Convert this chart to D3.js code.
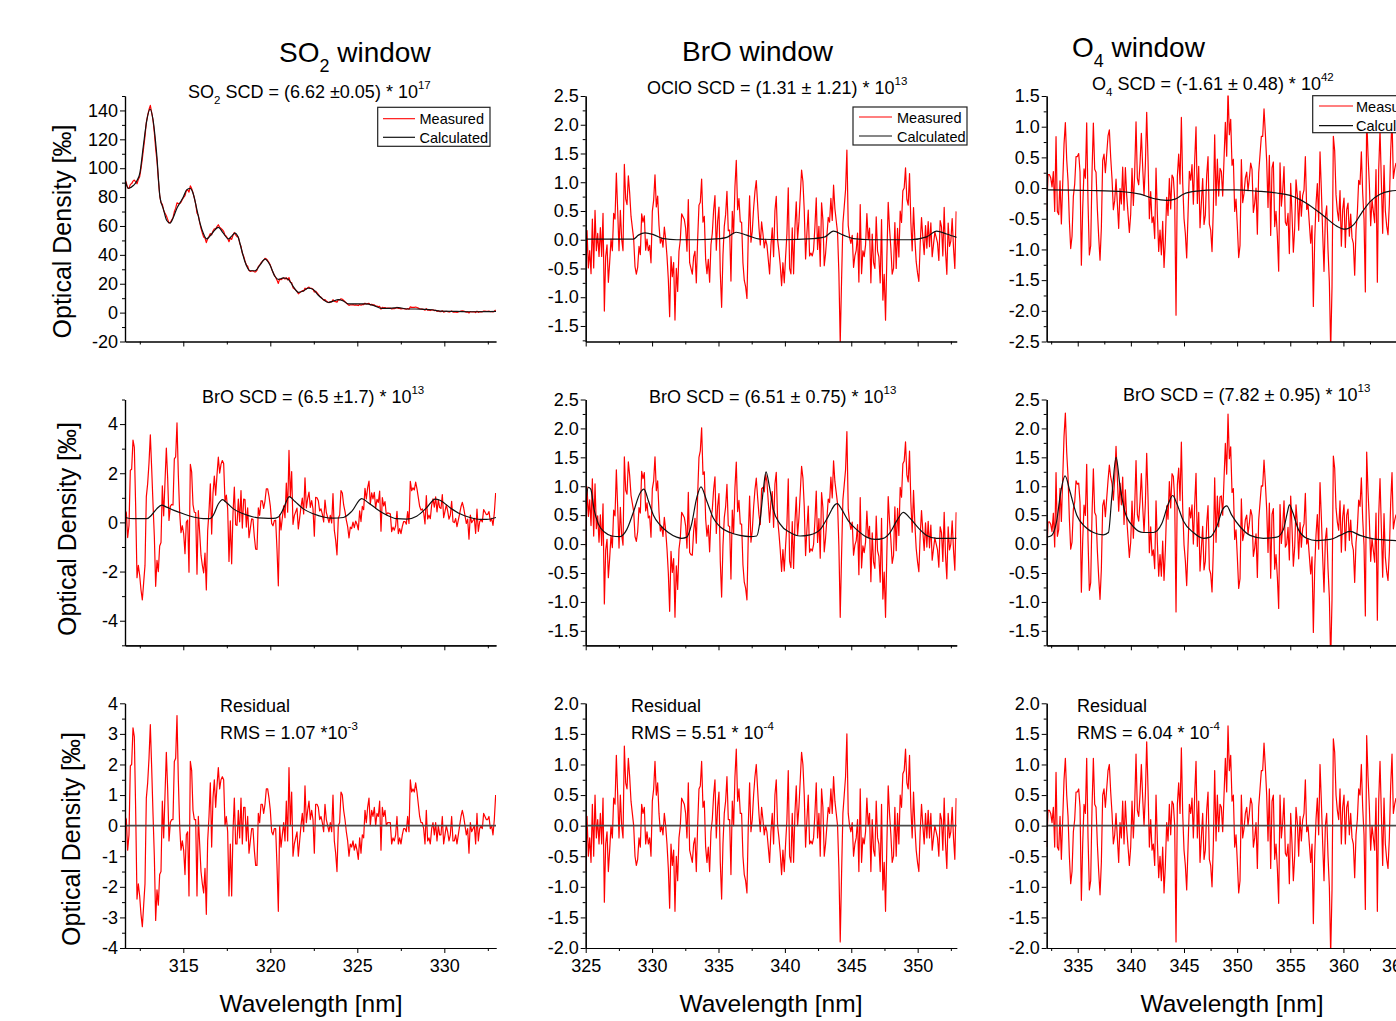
<!DOCTYPE html>
<html>
<head>
<meta charset="utf-8">
<script src="https://cdn.jsdelivr.net/npm/d3@7"></script>
<style>
  html, body { margin: 0; padding: 0; background: #fff; overflow: hidden; }
  svg { display: block; font-family: "Liberation Sans", Arial, sans-serif; }
</style>
</head>
<body>
<svg id="fig" width="1396" height="1021"></svg>
<script>
// ---------------------------------------------------------------------------
// Detector wavelength grids of the three fit windows: first and last pixel (nm)
const so2Grid = [311.65, 332.95];
const broGrid = [325.0, 352.9];
const o4Grid  = [332.08, 364.95];

// Fit residuals (optical density, per mille), one value per detector pixel
const residualSO2 = [
  0.3, 0.2, -0.8, -0.3, 1.95, 2.0, 3.2, 2.9, 0.5, -2.4,
  -1.9, -2.3, -2.9, -3.3, -2.6, -1.9, 0.9, 1.4, 2.2, 3.3,
  1.9, 0.4, -1.0, -3.1, -2.1, -2.6, -1.6, -1.5, 0.8, -0.4,
  1.0, 2.4, 1.2, -0.5, 0.1, 0.2, 0.2, 2.1, 2.2, 3.6,
  1.5, 0.0, -0.8, -0.5, -0.8, -1.6, -0.3, -0.2, -2.3, 2.1,
  1.8, 0.5, 0.2, 0.2, -2.3, 0.3, -0.6, -1.5, -1.9, -2.2,
  -1.4, -2.9, -0.5, 0.3, 1.4, -0.7, 0.9, 1.5, 0.6, 1.3,
  1.9, 1.2, 1.5, 1.6, 1.5, 0.0, 0.3, -0.2, -2.3, -0.6,
  -2.3, -0.2, 0.9, -0.6, -0.6, 0.5, -0.4, 0.9, -0.6, 0.6,
  0.6, -0.5, 0.3, -0.9, -0.5, -0.1, -0.1, -0.8, -1.3, -1.3,
  0.4, 0.1, 0.7, 0.7, 0.4, 0.7, 1.2, 1.2, 0.9, 0.5,
  -0.2, -0.3, -0.1, -0.1, -1.3, -2.8, 0.0, -0.7, -0.3, 0.1,
  -0.5, 0.8, -0.5, 1.9, 0.0, 1.1, -1.0, -0.6, -0.4, -0.2,
  -1.0, -0.5, 0.0, 0.4, -0.2, 1.3,
  0.1, 0.5, 0.8, 0.2, 0.5, 0.2, -0.9, 0.7, 0.7, 0.6,
  0.2, 0.3, 0.1, -0.2, 0.7, 0.2, 0.0, -0.2, 0.1, -0.2,
  1.0, -0.5, -0.9, -1.5, 0.0, 0.1, 1.1, 1.0, 0.5, 0.2,
  -0.2, -0.5, -1.0, -0.6, -0.7, -0.5, -0.8, -0.6, -0.8, -1.1,
  -0.4, -0.9, -0.3, -0.4, 0.5, 0.1, 0.6, 0.9, 0.0, 0.5,
  0.3, 0.6, 0.0, 0.4, 0.3, 0.8, -0.8, 0.6, 0.3, 0.5,
  0.0, 0.1, 0.1, 0.1, -0.6, -0.4, -0.5, -0.3, 0.3, -0.6,
  -0.4, -0.6, -0.3, -0.1, -0.1, -0.2, 0.3, -0.2, 1.5, 1.1,
  1.2, 1.1, 1.4, 1.1, 0.7, 0.3, 0.1, 0.1, -0.1, -0.6,
  0.5, -0.5, -0.4, -0.6, -0.1, 0.1, -0.3, 0.1, -0.5, 0.0,
  -0.3, -0.3, 0.3, -0.6, -0.3, 0.0, -0.2, -0.5, -0.3, 0.3,
  -0.5, -0.5, -0.3, -0.6, -0.3, 0.0, 0.3, 0.5, 0.3, 0.0,
  -0.3, -0.1, -0.9, 0.1, -0.2, -0.1, 0.0, -0.6, 0.4, -0.5,
  -0.1, 0.0, -0.1, 0.4, 0.3, 0.2, 0.2, 0.3, -0.1, 0.0,
  -0.3, 0.2, 1.0
];

const residualBrO = [
  -0.75, 0.15, -0.5, -0.2, -0.6, 0.35, -0.5, 0.5, -0.2, 0.1,
  -0.3, 0.2, -0.3, 0.45, -1.25, -0.3, -0.1, -0.75, -0.4, 0.0,
  -0.2, 0.45, 0.35, 1.15, 0.5, -0.2, 0.5, 0.0, -0.2, 1.3,
  0.7, 0.6, 1.1, 0.8, 0.4, 0.2, 0.0, -0.5, -0.65, -0.55,
  -0.2, -0.35, 0.35, 0.2, 0.3, -0.3, -0.1, -0.3, -0.2, -0.5,
  0.4, 0.6, 1.05, 0.5, 0.7, 0.2, -0.1, 0.0, -0.15, 0.2,
  0.0, -0.3, -0.7, -1.35, -0.3, -0.65, -0.4, -1.4, -0.5, -0.9,
  -0.2, 0.0, 0.45, 0.4, 0.35, 0.2, -0.2, 0.7, -0.4, -0.5,
  -0.6, -0.3, -0.2, -0.75, 0.0, 0.6, 0.65, 1.05, 0.3, 0.4,
  -0.35, -0.6, -0.35, -0.75, -0.1, 0.1, 0.5, 0.75, -0.2, 0.3,
  0.55, -0.6, -1.2, -0.3, 0.2, 0.4, 0.8, 0.1, 0.1, -0.8,
  0.4, 0.0, 0.8, 1.25, 0.4, 0.6, 0.2, 0.2, -0.5, -0.8,
  -0.9, -1.1, 0.0, 0.7, -0.1, 0.1, 0.5, 0.8, 1.0, 0.6,
  0.2, -0.1, 0.3, 0.1, -0.15, 0.0, -0.1, -0.35, -0.6, -0.1,
  0.2, -0.3, 0.5, 0.75, 0.0, -0.2, -0.45, -0.8, -0.4, -0.75,
  -0.3, 0.1, 0.9, -0.5, -0.6, 0.2, -0.6, 0.2, 0.65, 0.0,
  0.3, 0.75, 1.2, 1.0, 0.5, -0.35, 0.1, 0.5, -0.3, -0.25,
  -0.3, -0.2, 0.2, 0.7, -0.2, 0.2, -0.5, 0.6, 0.3, -0.5,
  -0.3, 0.0, 0.3, 0.2, 0.6, 0.2, 0.8, 0.4, 0.2, 0.0,
  -0.7, -1.9, -0.8, 0.2, 0.5, 0.8, 1.5, 0.2, 0.0, -0.1,
  0.05, -0.5, -0.3, -0.2, 0.1, -0.75, 0.6, -0.6, -0.2, -0.3,
  -0.1, 0.45, 0.0, 0.2, -0.75, 0.1, -0.4, -0.5, 0.4, -0.2,
  -0.3, -0.75, 0.35, -1.05, -0.6, -1.4, -0.3, 0.65, 0.2, -0.15,
  -0.6, -0.5, 0.3, -0.5, 0.2, -0.3, 0.5, 0.3, 0.85, 0.9,
  1.25, 0.7, 0.6, 1.15, 0.3, -0.2, 0.55, 0.0, -0.4, -0.6,
  -0.75, -0.1, 0.35, 0.0, -0.3, 0.2, -0.2, 0.25, -0.2, 0.2,
  -0.4, -0.2, 0.0, -0.1, -0.2, -0.5, 0.2, 0.1, -0.4, 0.45,
  -0.3, -0.7, 0.2, -0.2, -0.1, 0.3, -0.2, -0.55, 0.45
];

const residualO4 = [
  -0.35, 0.25, 0.25, 0.2, 0.05, 0.3, -0.35, 0.87, -0.35, -0.4,
  0.15, -0.55, 0.1, 0.75, 1.1, 0.5, 0.15, -0.5, -0.95, -0.75,
  -0.1, 0.1, 0.55, 0.55, 0.6, 0.3, -1.22, -0.3, 0.35, 0.2,
  1.1, -0.2, -1.05, -0.9, 0.3, 1.1, 0.35, 0.3, -0.3, -0.75,
  -1.13, -0.6, 0.5, 0.6, 0.3, 0.6, 0.9, 1.0, 0.55, 0.2,
  -0.3, -0.15, 0.2, -0.2, -0.6, 0.05, -0.2, 0.4, -0.3, 0.4,
  -0.05, -0.35, -0.65, -0.35, 0.4, -0.2, 0.35, 1.17, 0.25, 0.15,
  0.5, 1.0, 0.45, 0.0, 0.5, 1.37, 0.6, -0.35, 0.1, -0.4,
  -0.3, -0.65, 0.5, -0.25, -0.85, -0.5, -0.9, -0.35, -1.1, -0.65,
  0.05, -0.25, 0.35, -0.15, 0.4, 0.35, 0.0, -1.9, 0.35, 0.7,
  0.2, 1.27, 0.2, -0.4, -0.65, -1.05, -0.35, 0.35, 0.2, 0.45,
  -0.2, 0.5, 1.05, -0.2, 0.4, -0.6, -0.2, 0.2, -0.55, -0.4,
  0.25, 0.55, -0.55, -0.65, -1.0, -0.3, 0.9, -0.25, 0.5, -0.1, 0.35,
  0.3, -0.1, 0.5, 1.1, 0.55, 1.63, 0.9, 1.15, 0.4, 0.5,
  -0.35, -0.15, -0.6, -1.1, -0.9, 0.5, -0.2, -0.05, 0.2, 0.3,
  0.0, 0.2, 0.45, 0.35, -0.35, -0.2, 0.05, -0.7, 0.3, 0.6,
  0.9, 0.9, 1.35, 0.95, 0.5, -0.25, 0.6, -0.7, 0.4, 0.5,
  -0.55, -0.3, -0.7, -1.27, 0.5, -0.2, 0.05, 0.45, -0.45, -0.5,
  -0.3, -0.95, 0.2, -0.3, -0.9, -0.5, 0.3, 0.05, -0.5, 0.15,
  -0.25, 0.1, 0.2, 0.75, -0.1, 0.0, -0.3, -0.6, -0.3, -1.6,
  -0.5, 0.1, 0.45, -0.15, 1.0, 0.4, -0.3, -0.9, 0.0, 0.2,
  -0.5, -1.0, -2.1, -1.05, 1.42, 1.2, 0.5, 0.25, 0.1, 0.6,
  -0.3, 0.3, 0.5, -0.3, 0.3, 0.4, -0.15, 0.2, -0.2, -0.3,
  -0.85, -0.15, 0.1, 0.6, 0.5, 1.0, 0.3, -0.15, -1.37, 1.47,
  0.8, 0.3, -0.4, 0.0, -0.2, -0.4, 0.45, -1.4, 0.4, 1.05,
  0.2, -0.65, 0.45, -0.3, -0.55, -0.7, -0.2, 0.65, 1.17, 0.2,
  0.35, 0.45
];

// Fitted (calculated) optical densities, per mille, at the listed wavelengths
const so2FitWl = [311.65, 311.84, 312.13, 312.32, 312.51, 312.70, 312.90, 313.09, 313.28, 313.47,
  313.66, 313.85, 314.04, 314.24, 314.43, 314.62, 314.81, 315.00, 315.19, 315.39,
  315.58, 315.77, 315.96, 316.15, 316.34, 316.53, 316.73, 317.01, 317.30, 317.59,
  317.78, 317.97, 318.16, 318.36, 318.55, 318.83, 319.12, 319.41, 319.70, 319.98,
  320.27, 320.46, 320.75, 321.04, 321.32, 321.61, 321.90, 322.19, 322.47, 322.76,
  323.05, 323.34, 323.62, 323.91, 324.20, 324.49, 324.96, 325.44, 325.92, 326.40,
  326.88, 327.36, 327.84, 328.32, 328.80, 329.27, 329.75, 330.71, 331.67, 332.97];
const so2Fit = [92, 86, 88, 91, 97, 115, 133, 141, 132, 110,
  80, 72, 64, 62, 66, 72, 76, 80, 85, 86,
  82, 72, 62, 55, 51, 53, 56, 59, 55, 51,
  53, 55, 52, 43, 35, 29, 29, 33, 37, 33,
  25, 23, 24, 23, 18, 14, 15, 17, 16, 12,
  9, 7, 8, 9, 8, 6, 6, 6, 5, 3,
  3, 3.5, 2.5, 2.5, 2.3, 2.0, 1.0, 0.8, 0.6, 0.8];

const broFitSO2WinWl = [311.65, 312.13, 312.90, 313.18, 313.47, 313.76, 314.04, 314.43, 315.00, 315.58,
  316.15, 316.53, 316.73, 317.01, 317.26, 317.49, 317.88, 318.45, 319.03, 319.60,
  320.17, 320.46, 320.75, 321.09, 321.42, 321.90, 322.47, 323.05, 323.62, 324.20,
  324.68, 325.25, 325.63, 326.11, 326.69, 327.26, 327.84, 328.41, 328.99, 329.47,
  329.75, 330.33, 330.90, 331.48, 332.05, 332.44, 332.97];
const broFitSO2Win = [0.2, 0.15, 0.15, 0.3, 0.55, 0.7, 0.62, 0.5, 0.35, 0.22,
  0.15, 0.15, 0.3, 0.75, 0.93, 0.8, 0.55, 0.35, 0.22, 0.17,
  0.16, 0.22, 0.55, 1.05, 0.85, 0.55, 0.35, 0.22, 0.17, 0.2,
  0.45, 0.97, 0.8, 0.55, 0.3, 0.15, 0.13, 0.25, 0.6, 0.95,
  0.9, 0.6, 0.35, 0.2, 0.12, 0.12, 0.2];

const ocloFitWl = [325.0, 328.59, 328.97, 329.47, 330.10, 330.85, 331.85, 333.36, 335.12, 335.62,
  336.32, 337.12, 338.13, 339.88, 342.14, 343.02, 343.65, 344.40, 345.16, 346.41,
  349.42, 350.68, 351.43, 352.18, 352.94];
const ocloFit = [0.01, 0.01, 0.08, 0.12, 0.09, 0.02, 0.0, 0.0, 0.02, 0.04,
  0.13, 0.08, 0.01, 0.0, 0.02, 0.05, 0.15, 0.08, 0.02, 0.0,
  0.0, 0.05, 0.15, 0.1, 0.04];

const broFitBrOWinWl = [325.0, 325.20, 325.38, 325.63, 325.95, 326.46, 326.96, 327.59, 328.09, 328.59,
  329.09, 329.39, 329.72, 330.10, 330.60, 331.22, 331.85, 332.23, 332.61, 332.98,
  333.36, 333.68, 334.11, 334.61, 335.12, 335.87, 336.62, 337.37, 337.88, 338.13,
  338.38, 338.58, 338.83, 339.13, 339.63, 340.39, 341.14, 341.89, 342.65, 343.27,
  343.77, 343.95, 344.28, 344.78, 345.41, 346.16, 346.79, 347.41, 347.92, 348.42,
  348.92, 349.42, 350.05, 350.68, 351.43, 352.94];
const broFitBrOWin = [0.7, 0.98, 0.95, 0.6, 0.35, 0.2, 0.14, 0.13, 0.25, 0.55,
  0.88, 0.95, 0.75, 0.5, 0.33, 0.2, 0.12, 0.1, 0.12, 0.35,
  0.8, 0.99, 0.75, 0.45, 0.3, 0.2, 0.15, 0.13, 0.14, 0.4,
  0.95, 1.25, 1.0, 0.6, 0.35, 0.2, 0.14, 0.16, 0.25, 0.48,
  0.68, 0.7, 0.6, 0.4, 0.25, 0.12, 0.08, 0.1, 0.2, 0.4,
  0.55, 0.45, 0.28, 0.15, 0.1, 0.1];

const o4FitWl = [332.08, 336.16, 339.30, 340.87, 342.12, 343.38, 344.16, 344.94, 346.20, 348.08,
  349.96, 351.84, 353.73, 354.98, 356.55, 358.12, 359.37, 360.16, 360.94, 361.73,
  362.51, 363.45, 364.39, 364.96, 367.0];
const o4Fit = [-0.03, -0.04, -0.06, -0.1, -0.17, -0.2, -0.18, -0.1, -0.05, -0.03,
  -0.03, -0.05, -0.08, -0.12, -0.25, -0.45, -0.62, -0.67, -0.6, -0.4,
  -0.22, -0.1, -0.05, -0.04, -0.03];

const broFitO4WinWl = [332.08, 332.55, 333.02, 333.40, 333.81, 334.28, 334.91, 335.69, 336.47, 337.42,
  337.89, 338.20, 338.61, 338.98, 339.45, 340.24, 341.18, 342.12, 342.90, 343.53,
  343.94, 344.32, 344.94, 345.88, 346.83, 347.45, 348.08, 348.64, 349.02, 349.49,
  350.28, 351.22, 352.47, 353.73, 354.35, 354.73, 354.92, 355.23, 355.77, 356.55,
  357.49, 358.75, 359.69, 360.63, 361.57, 362.82, 364.96, 367.0];
const broFitO4Win = [0.12, 0.15, 0.4, 0.9, 1.18, 0.9, 0.5, 0.3, 0.2, 0.16,
  0.2, 0.8, 1.5, 1.0, 0.55, 0.3, 0.2, 0.2, 0.35, 0.7,
  0.84, 0.7, 0.4, 0.2, 0.1, 0.12, 0.3, 0.6, 0.66, 0.5,
  0.3, 0.15, 0.1, 0.12, 0.25, 0.55, 0.68, 0.55, 0.25, 0.1,
  0.06, 0.08, 0.15, 0.22, 0.15, 0.09, 0.06, 0.05];

// Axis ticks
const wlTicks      = [[315, 320, 325, 330], [325, 330, 335, 340, 345, 350], [335, 340, 345, 350, 355, 360, 365]];
const wlMinorTicks = [[312.5, 317.5, 322.5, 327.5, 332.5], [327.5, 332.5, 337.5, 342.5, 347.5, 352.5],
                      [332.5, 337.5, 342.5, 347.5, 352.5, 357.5, 362.5]];
const odTicksSO2   = [-20, 0, 20, 40, 60, 80, 100, 120, 140];
const odMinorSO2   = [-10, 10, 30, 50, 70, 90, 110, 130, 150];
const odTicksWide  = [-4, -2, 0, 2, 4];
const odMinorWide  = [-5, -3, -1, 1, 3, 5];
const odTicksRes1  = [-4, -3, -2, -1, 0, 1, 2, 3, 4];
const odMinorRes1  = [-3.5, -2.5, -1.5, -0.5, 0.5, 1.5, 2.5, 3.5];
const odTicksA     = [-1.5, -1.0, -0.5, 0.0, 0.5, 1.0, 1.5, 2.0, 2.5];
const odMinorA     = [-1.75, -1.25, -0.75, -0.25, 0.25, 0.75, 1.25, 1.75, 2.25];
const odTicksO4    = [-2.5, -2.0, -1.5, -1.0, -0.5, 0.0, 0.5, 1.0, 1.5];
const odMinorO4    = [-2.25, -1.75, -1.25, -0.75, -0.25, 0.25, 0.75, 1.25];
const odTicksRes   = [-2.0, -1.5, -1.0, -0.5, 0.0, 0.5, 1.0, 1.5, 2.0];
const odMinorRes   = [-1.75, -1.25, -0.75, -0.25, 0.25, 0.75, 1.25, 1.75];

// ---------------------------------------------------------------------------
const svg = d3.select("#fig");
const FONT = '"Liberation Sans", Arial, sans-serif';

// Panel frames (pixels) and wavelength span of each column
const colX = [[125, 496], [585.7, 956.7], [1046.7, 1417.8]];
const rowY = [[96, 341.5], [399.5, 645.3], [703.3, 948]];
const colDomain = [[311.65, 332.97], [325, 352.94], [332.08, 367.0]];

// Wavelength of every detector pixel inside a window
function pixelGrid(range, n) {
  return d3.range(n).map(i => range[0] + i * (range[1] - range[0]) / (n - 1));
}
// Fitted optical density at a detector pixel
function fitAt(xs, ys, w) {
  const i = Math.max(1, Math.min(xs.length - 1, d3.bisectLeft(xs, w)));
  const t = (w - xs[i - 1]) / (xs[i] - xs[i - 1]);
  return ys[i - 1] + t * (ys[i] - ys[i - 1]);
}

const fmtInt = d => String(d);
const fmtDec = d => d.toFixed(1);

const panels = [
  { r: 0, c: 0, y: [-20, 150],     maj: odTicksSO2,  min: odMinorSO2,  fmt: fmtInt, grid: so2Grid, res: residualSO2, fit: [so2FitWl, so2Fit] },
  { r: 0, c: 1, y: [-1.77, 2.5],   maj: odTicksA,    min: odMinorA,    fmt: fmtDec, grid: broGrid, res: residualBrO, fit: [ocloFitWl, ocloFit] },
  { r: 0, c: 2, y: [-2.5, 1.5],    maj: odTicksO4,   min: odMinorO4,   fmt: fmtDec, grid: o4Grid,  res: residualO4,  fit: [o4FitWl, o4Fit] },
  { r: 1, c: 0, y: [-5, 5],        maj: odTicksWide, min: odMinorWide, fmt: fmtInt, grid: so2Grid, res: residualSO2, fit: [broFitSO2WinWl, broFitSO2Win] },
  { r: 1, c: 1, y: [-1.75, 2.5],   maj: odTicksA,    min: odMinorA,    fmt: fmtDec, grid: broGrid, res: residualBrO, fit: [broFitBrOWinWl, broFitBrOWin] },
  { r: 1, c: 2, y: [-1.75, 2.5],   maj: odTicksA,    min: odMinorA,    fmt: fmtDec, grid: o4Grid,  res: residualO4,  fit: [broFitO4WinWl, broFitO4Win] },
  { r: 2, c: 0, y: [-4, 4],        maj: odTicksRes1, min: odMinorRes1, fmt: fmtInt, grid: so2Grid, res: residualSO2 },
  { r: 2, c: 1, y: [-2, 2],        maj: odTicksRes,  min: odMinorRes,  fmt: fmtDec, grid: broGrid, res: residualBrO },
  { r: 2, c: 2, y: [-2, 2],        maj: odTicksRes,  min: odMinorRes,  fmt: fmtDec, grid: o4Grid,  res: residualO4 }
];

const defs = svg.append("defs");

function styleAxis(sel) {
  sel.attr("font-family", FONT).attr("font-size", 18);
  sel.selectAll("path.domain").attr("stroke", "#000").attr("stroke-width", 1.2);
  sel.selectAll(".tick line").attr("stroke", "#000").attr("stroke-width", 1);
  sel.selectAll(".tick text").attr("fill", "#000");
}

panels.forEach((p, idx) => {
  const [x0, x1] = colX[p.c];
  const [y0, y1] = rowY[p.r];
  const x = d3.scaleLinear().domain(colDomain[p.c]).range([x0, x1]);
  const y = d3.scaleLinear().domain(p.y).range([y1, y0]);
  const g = svg.append("g");

  defs.append("clipPath").attr("id", "plotclip" + idx)
    .append("rect").attr("x", x0).attr("y", y0 - 0.5).attr("width", x1 - x0).attr("height", y1 - y0 + 1);
  const plot = g.append("g").attr("clip-path", `url(#plotclip${idx})`);

  const wl = pixelGrid(p.grid, p.res.length);
  // measured optical density = fitted absorber + fit residual
  const measured = wl.map((w, i) => [w, (p.fit ? fitAt(p.fit[0], p.fit[1], w) : 0) + p.res[i]]);

  const rawLine = d3.line().x(d => x(d[0])).y(d => y(d[1]));
  plot.append("path").datum(measured)
    .attr("d", rawLine)
    .attr("fill", "none").attr("stroke", "#ff0000").attr("stroke-width", 1.2)
    .attr("stroke-linejoin", "round");

  if (p.fit) {
    const smoothLine = d3.line().x(d => x(d[0])).y(d => y(d[1])).curve(d3.curveMonotoneX);
    plot.append("path").datum(d3.zip(p.fit[0], p.fit[1]))
      .attr("d", smoothLine)
      .attr("fill", "none").attr("stroke", "#111").attr("stroke-width", 1.2);
  } else {
    plot.append("line")
      .attr("x1", x0).attr("x2", x1).attr("y1", y(0)).attr("y2", y(0))
      .attr("stroke", "#4a4a4a").attr("stroke-width", 1.8);
  }

  // y axis: labelled and minor ticks
  g.append("g").attr("transform", `translate(${x0},0)`)
    .call(d3.axisLeft(y).tickValues(p.min).tickSize(3).tickSizeOuter(0).tickFormat(""))
    .call(styleAxis);
  g.append("g").attr("transform", `translate(${x0},0)`)
    .call(d3.axisLeft(y).tickValues(p.maj).tickSize(5).tickSizeOuter(0).tickPadding(2).tickFormat(p.fmt))
    .call(styleAxis);

  // x axis
  g.append("g").attr("transform", `translate(0,${y1})`)
    .call(d3.axisBottom(x).tickValues(wlMinorTicks[p.c]).tickSize(3).tickSizeOuter(0).tickFormat(""))
    .call(styleAxis);
  g.append("g").attr("transform", `translate(0,${y1})`)
    .call(d3.axisBottom(x).tickValues(wlTicks[p.c]).tickSize(5).tickSizeOuter(0).tickPadding(6)
      .tickFormat(p.r === 2 ? d => String(d) : ""))
    .call(styleAxis);
});

// ---------------------------------------------------------------------------
// Text with sub- and superscripts
function richText(x, y, size, parts, anchor) {
  const t = svg.append("text")
    .attr("x", x).attr("y", y)
    .attr("font-family", FONT).attr("font-size", size)
    .attr("fill", "#000").attr("text-anchor", anchor || "start");
  let shift = 0;
  parts.forEach(part => {
    const s = typeof part === "string" ? { t: part } : part;
    let target = 0, fs = size;
    if (s.sub) { target = size * 0.36; fs = size * 0.64; }
    if (s.sup) { target = -size * 0.5; fs = size * 0.64; }
    t.append("tspan").attr("dy", target - shift).attr("font-size", fs).text(s.t);
    shift = target;
  });
  return t;
}

// Window titles
richText(279, 61.5, 28, ["SO", { t: "2", sub: true }, " window"]);
richText(682, 61, 28, ["BrO window"]);
richText(1072, 57, 28, ["O", { t: "4", sub: true }, " window"]);

// Fit results
richText(188, 98, 18, ["SO", { t: "2", sub: true }, " SCD = (6.62 \u00B10.05) * 10", { t: "17", sup: true }]);
richText(647, 94, 18, ["OClO SCD = (1.31 \u00B1 1.21) * 10", { t: "13", sup: true }]);
richText(1092, 90, 18, ["O", { t: "4", sub: true }, " SCD = (-1.61 \u00B1 0.48) * 10", { t: "42", sup: true }]);
richText(202, 403, 18, ["BrO SCD = (6.5 \u00B11.7) * 10", { t: "13", sup: true }]);
richText(649, 403, 18, ["BrO SCD = (6.51 \u00B1 0.75) * 10", { t: "13", sup: true }]);
richText(1123, 401, 18, ["BrO SCD = (7.82 \u00B1 0.95) * 10", { t: "13", sup: true }]);

// Residual annotations
[[220, "RMS = 1.07 *10", "-3"], [631, "RMS = 5.51 * 10", "-4"], [1077, "RMS = 6.04 * 10", "-4"]]
  .forEach(([xx, rms, exp]) => {
    richText(xx, 712, 18, ["Residual"]);
    richText(xx, 739, 18, [rms, { t: exp, sup: true }]);
  });

// Axis titles
[[71, 231.5], [76, 529], [80, 839]].forEach(([xx, yy]) => {
  svg.append("text")
    .attr("transform", `translate(${xx},${yy}) rotate(-90)`)
    .attr("text-anchor", "middle").attr("font-family", FONT).attr("font-size", 25)
    .attr("fill", "#000").text("Optical Density [\u2030]");
});
[311, 771, 1232].forEach(xx => {
  svg.append("text")
    .attr("x", xx).attr("y", 1012).attr("text-anchor", "middle")
    .attr("font-family", FONT).attr("font-size", 24.5).attr("fill", "#000")
    .text("Wavelength [nm]");
});

// Legends
function legend(bx, by, bw, bh, lx, lw, yMeas, yCalc, tx) {
  const g = svg.append("g");
  g.append("rect").attr("x", bx).attr("y", by).attr("width", bw).attr("height", bh)
    .attr("fill", "#fff").attr("stroke", "#222").attr("stroke-width", 1.2);
  g.append("line").attr("x1", lx).attr("x2", lx + lw).attr("y1", yMeas).attr("y2", yMeas)
    .attr("stroke", "#ff0000").attr("stroke-width", 1.1);
  g.append("line").attr("x1", lx).attr("x2", lx + lw).attr("y1", yCalc).attr("y2", yCalc)
    .attr("stroke", "#111").attr("stroke-width", 1.2);
  g.append("text").attr("x", tx).attr("y", yMeas + 5.5).attr("font-family", FONT)
    .attr("font-size", 14.5).attr("fill", "#000").text("Measured");
  g.append("text").attr("x", tx).attr("y", yCalc + 5.5).attr("font-family", FONT)
    .attr("font-size", 14.5).attr("fill", "#000").text("Calculated");
}
legend(377.7, 107.3, 112.3, 39, 383, 32, 118.7, 137.3, 419.5);
legend(853, 107, 114, 38, 859, 33, 117, 136, 897);
legend(1312.7, 95.7, 114, 37, 1319, 34, 106, 125.7, 1356);
</script>
</body>
</html>
